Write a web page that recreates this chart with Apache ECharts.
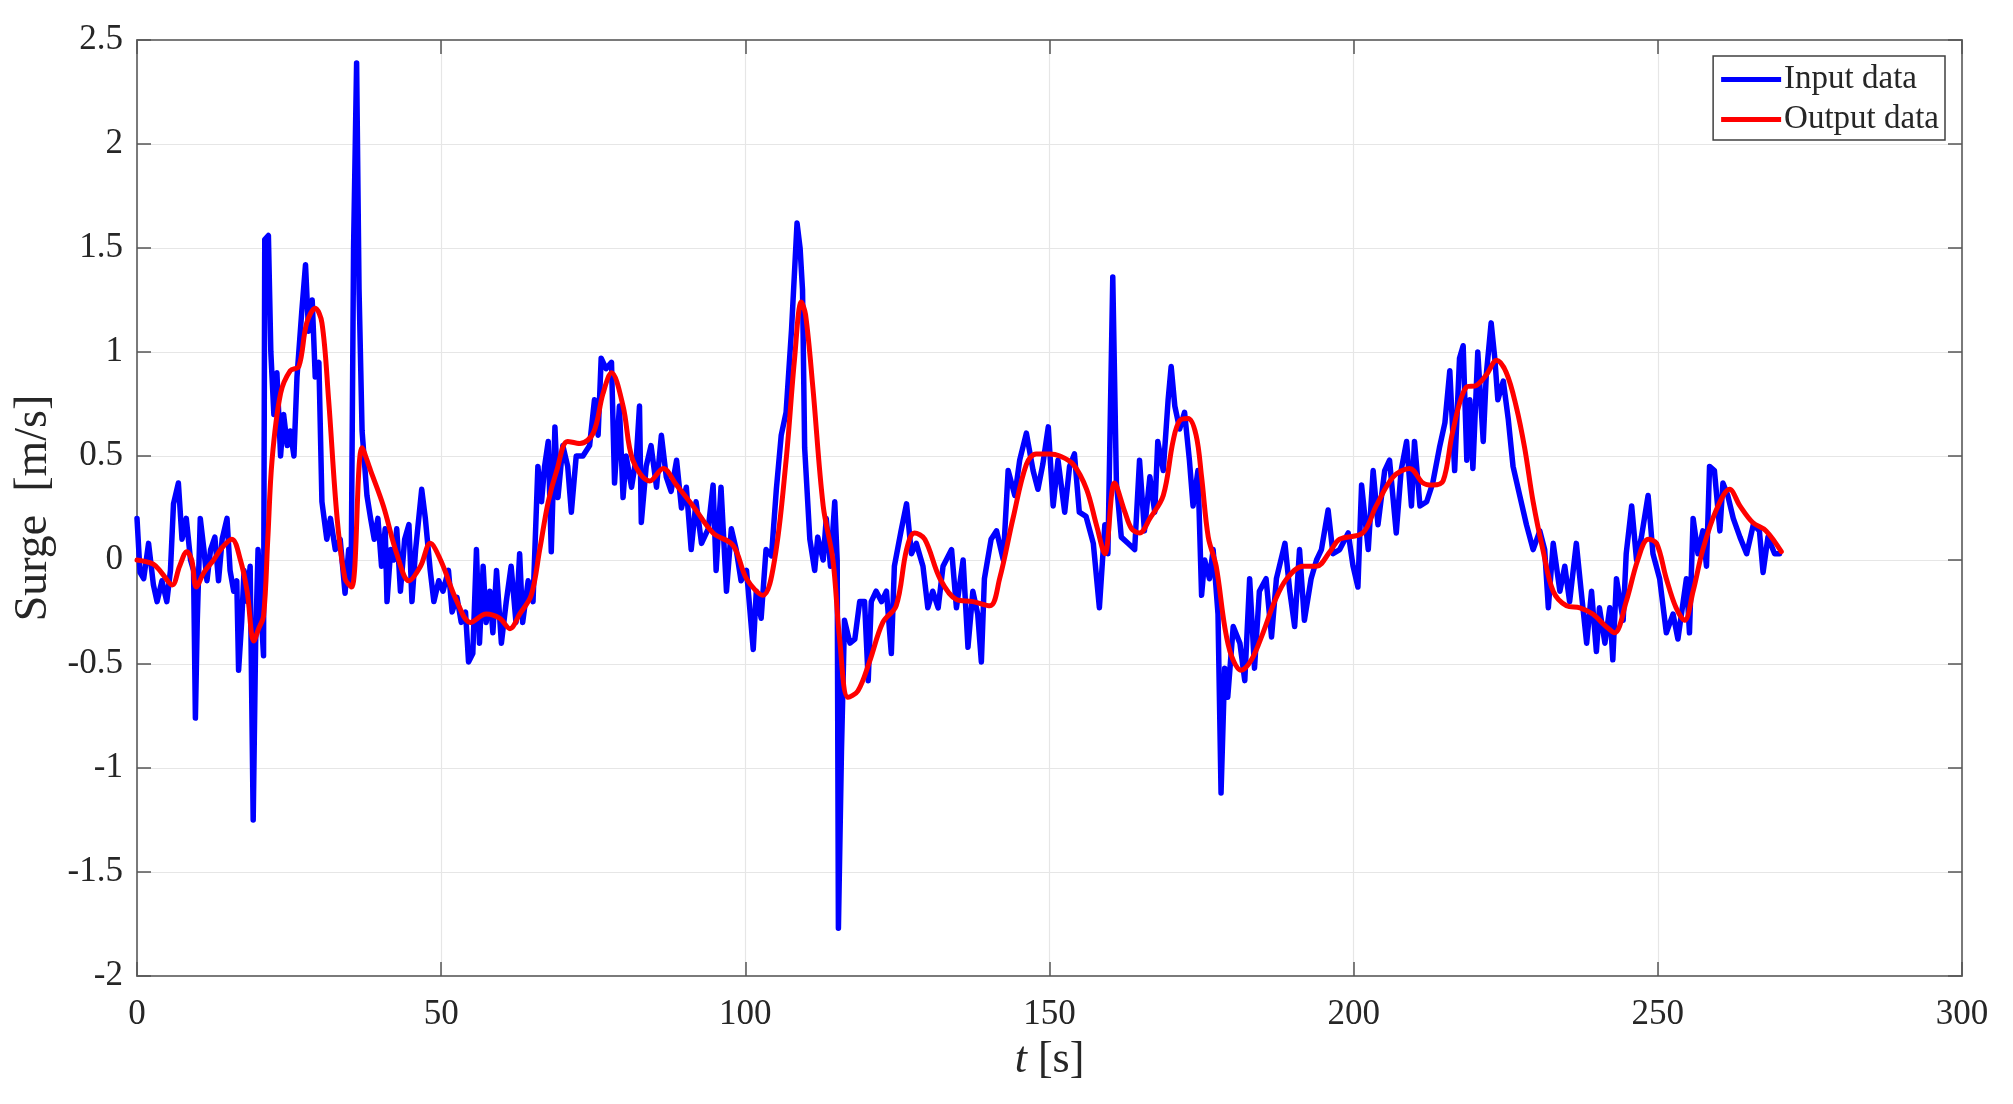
<!DOCTYPE html>
<html>
<head>
<meta charset="utf-8">
<script src="https://cdn.jsdelivr.net/npm/echarts@6/dist/echarts.min.js"></script>
<style>
html,body{margin:0;padding:0;background:#fff;}
#chart{width:2013px;height:1104px;}
</style>
</head>
<body>
<div id="chart"></div>
<script>
// ---- Data ----
const xTicks = [0, 50, 100, 150, 200, 250, 300];
const yTicks = [-2, -1.5, -1, -0.5, 0, 0.5, 1, 1.5, 2, 2.5];

// Input data (noisy) : time [s]
const inputTime = [
  0.0,0.5,1.1,1.9,2.7,3.3,4.1,4.9,5.5,6.0,6.8,7.4,8.1,8.8,9.3,9.6,9.9,10.4,11.0,11.5,
  12.1,12.8,13.4,14.0,14.8,15.3,15.9,16.4,16.7,17.2,17.6,18.1,18.6,19.1,19.5,19.9,20.3,20.8,21.0,21.6,
  22.0,22.5,23.0,23.6,24.1,24.7,25.2,25.8,26.3,27.1,27.7,28.2,28.8,29.3,29.9,30.4,31.2,31.8,32.6,33.4,
  34.2,34.8,35.2,35.6,36.1,36.5,37.0,37.8,38.4,39.0,39.6,40.2,40.8,41.1,41.7,42.2,42.7,43.3,44.0,44.7,
  45.2,45.8,46.8,47.4,48.2,48.8,49.6,50.3,51.2,51.8,52.6,53.3,54.0,54.5,
  55.2,55.8,56.3,56.9,57.4,58.0,58.5,59.1,59.9,60.7,61.5,62.3,62.9,63.4,64.3,65.1,65.9,66.5,67.0,67.6,
  68.1,68.7,69.2,70.0,70.8,71.4,72.2,73.3,74.4,75.2,75.8,76.3,77.1,78.0,78.5,79.3,79.9,80.4,81.3,82.1,
  82.6,82.9,83.7,84.5,85.4,86.2,87.0,87.8,88.7,89.5,90.3,91.1,91.9,92.8,93.9,94.7,95.2,96.0,96.9,97.7,
  98.5,99.3,100.2,101.3,101.8,102.6,103.4,104.3,105.1,105.9,106.7,107.6,108.2,108.5,109.0,109.4,109.75,110.6,111.4,111.9,
  112.8,113.3,114.0,114.7,115.1,115.3,115.8,116.3,117.2,118.0,118.8,119.6,120.2,120.7,121.5,122.4,123.2,124.0,124.5,125.6,
  126.5,127.3,128.1,129.2,130.0,130.8,131.7,132.5,133.9,134.7,135.8,136.6,137.4,138.2,138.8,139.3,140.4,141.3,142.4,143.2,
  144.3,145.1,146.2,147.3,148.1,148.9,149.8,150.6,151.4,152.5,153.3,154.1,154.9,156.0,157.2,158.2,159.1,159.6,160.4,161.0,
  161.8,162.9,164.0,164.8,165.6,166.5,167.3,167.8,168.7,169.5,170.0,170.6,171.4,172.2,173.0,173.6,174.4,175.0,175.5,176.3,
  176.9,177.7,178.2,178.8,179.3,180.2,181.3,182.1,182.9,183.7,184.5,185.6,186.5,187.3,188.7,189.5,190.3,191.1,191.9,193.0,
  193.9,194.7,195.8,196.6,197.7,199.1,199.9,200.7,201.3,202.4,203.2,204.0,205.1,205.9,207.0,207.8,208.7,209.5,210.0,210.9,
  212.0,213.0,214.1,215.0,215.8,216.6,217.4,218.0,218.6,219.1,219.6,220.4,221.3,221.8,222.6,223.2,223.7,224.6,225.4,226.2,
  227.3,228.4,229.5,230.6,231.4,232.0,232.8,233.9,234.7,235.5,236.6,237.4,238.3,239.1,239.9,240.4,241.3,242.1,242.6,243.2,
  244.3,244.8,245.7,246.5,247.3,248.4,249.2,250.3,251.4,252.5,253.3,254.7,255.2,255.8,256.6,257.4,258.0,258.5,259.3,260.2,
  260.7,261.5,262.4,263.5,264.6,265.7,266.7,267.3,268.1,269.2,270.0
];
// Input data (noisy) : surge [m/s]
const inputSurge = [
  0.2,-0.06,-0.09,0.08,-0.12,-0.2,-0.1,-0.2,-0.05,0.27,0.37,0.1,0.2,0.0,-0.05,-0.76,-0.3,0.2,0.05,-0.1,
  0.05,0.11,-0.1,0.1,0.2,-0.05,-0.15,-0.1,-0.53,-0.3,-0.05,-0.2,-0.03,-1.25,-0.4,0.05,-0.2,-0.46,1.54,1.56,
  1.0,0.7,0.9,0.5,0.7,0.55,0.62,0.5,0.88,1.2,1.42,1.1,1.25,0.88,0.95,0.28,0.1,0.2,0.05,0.1,
  -0.16,0.05,-0.1,1.5,2.39,1.3,0.62,0.31,0.2,0.1,0.2,-0.03,0.15,-0.2,0.05,0.0,0.15,-0.15,0.1,0.17,
  -0.2,0.05,0.34,0.2,-0.05,-0.2,-0.1,-0.15,-0.05,-0.25,-0.18,-0.3,-0.25,-0.49,
  -0.45,0.05,-0.4,-0.03,-0.3,-0.15,-0.35,-0.05,-0.4,-0.2,-0.03,-0.3,0.03,-0.3,-0.1,-0.2,0.45,0.28,0.45,0.57,
  0.04,0.64,0.3,0.55,0.45,0.23,0.5,0.5,0.55,0.77,0.6,0.97,0.92,0.95,0.37,0.74,0.3,0.5,0.35,0.5,
  0.74,0.18,0.45,0.55,0.35,0.6,0.4,0.33,0.48,0.25,0.35,0.05,0.28,0.08,0.15,0.36,-0.05,0.35,-0.15,0.15,
  0.05,-0.1,-0.05,-0.43,-0.15,-0.28,0.05,0.02,0.34,0.6,0.71,1.11,1.45,1.62,1.5,1.3,0.54,0.1,-0.05,0.11,
  0.0,0.2,-0.03,0.28,0.0,-1.77,-0.92,-0.29,-0.4,-0.38,-0.2,-0.2,-0.58,-0.2,-0.15,-0.2,-0.15,-0.45,-0.03,0.14,
  0.27,0.03,0.08,-0.03,-0.23,-0.15,-0.23,-0.03,0.05,-0.23,0.0,-0.42,-0.15,-0.26,-0.49,-0.09,0.1,0.14,0.0,0.43,
  0.31,0.48,0.61,0.43,0.34,0.46,0.64,0.26,0.48,0.23,0.45,0.51,0.23,0.21,0.08,-0.23,0.17,0.03,1.36,0.37,
  0.11,0.08,0.05,0.48,0.14,0.4,0.23,0.57,0.43,0.77,0.93,0.74,0.63,0.71,0.48,0.26,0.43,-0.17,0.0,-0.09,
  0.05,-0.26,-1.12,-0.52,-0.66,-0.32,-0.4,-0.58,-0.09,-0.52,-0.15,-0.09,-0.37,-0.09,0.08,-0.15,-0.32,0.05,-0.29,-0.09,
  0.0,0.05,0.24,0.03,0.05,0.13,-0.03,-0.13,0.36,0.05,0.43,0.17,0.43,0.48,0.13,0.43,0.57,0.26,0.57,0.26,
  0.28,0.37,0.54,0.66,0.91,0.43,0.97,1.03,0.48,0.77,0.44,1.0,0.57,0.89,1.14,0.97,0.77,0.86,0.68,0.45,
  0.31,0.17,0.05,0.14,0.05,-0.23,0.08,-0.15,-0.03,-0.2,0.08,-0.15,-0.4,-0.15,-0.44,-0.23,-0.4,-0.23,-0.48,-0.09,
  -0.29,0.03,0.26,0.0,0.11,0.31,0.03,-0.09,-0.35,-0.26,-0.38,-0.09,-0.35,0.2,0.03,0.14,-0.03,0.45,0.43,0.14,
  0.37,0.31,0.2,0.11,0.03,0.17,0.14,-0.06,0.11,0.03,0.03
];

// Output data (filtered) : time [s]
const outputTime = [
  0,2.7,4,5.8,7,8.2,9,9.75,11,12.6,14,15.6,17,18.1,19.2,20,20.8,21.5,22.2,23.6,
  25.2,26.6,27.9,29.3,30.4,31.5,32.9,34.2,35.3,37,38.4,40.5,42.7,44.7,46.6,48.2,49.9,52.6,54.8,57.4,
  59.6,61.3,62.9,64.8,66.2,67.6,69,70.8,72.8,75,76.6,78,79.9,81.5,84.3,86.5,88.7,91.4,94.7,98,
  100.2,102.9,104.8,106.7,108.1,109.2,109.9,111.1,112.8,114.4,115.5,116.9,118.5,120.4,122.6,124.8,126.5,127.8,129.5,132,
  134.7,137.4,140.2,141.8,144,146.2,147.8,150,151.7,153.9,156.1,157.7,159.1,160.7,162.4,163.5,164.8,166.5,168.7,170.3,
  171.4,172.8,174.1,175,176.1,177.4,178.8,179.9,181.5,183.2,185.1,187,189,191.7,193.9,196.1,197.7,201.5,203.7,206.5,
  209.2,211.4,213,214.7,216.3,218.5,220.2,221.8,223.5,225.1,226.7,228.1,229.5,231.1,232.8,235,237.2,239.3,241.5,242.9,
  244.8,246.7,248.4,249.8,251.4,253,254.4,255.8,257.4,259.6,261.8,263.5,265.6,267.8,270.3
];
// Output data (filtered) : surge [m/s]
const outputSurge = [
  0,-0.02,-0.06,-0.12,-0.03,0.04,0.0,-0.13,-0.06,0.0,0.06,0.1,0.0,-0.15,-0.39,-0.33,-0.27,0.1,0.48,0.8,
  0.91,0.93,1.14,1.21,1.14,0.77,0.2,-0.09,-0.13,0.54,0.43,0.26,0.03,-0.1,-0.03,0.08,0.0,-0.2,-0.3,-0.26,
  -0.28,-0.33,-0.26,-0.17,0.05,0.28,0.43,0.57,0.56,0.61,0.8,0.9,0.74,0.48,0.38,0.44,0.36,0.26,0.13,0.07,
  -0.09,-0.17,0.0,0.48,0.97,1.24,1.18,0.83,0.26,0.0,-0.38,-0.66,-0.63,-0.49,-0.3,-0.22,0.05,0.13,0.1,-0.09,
  -0.19,-0.2,-0.22,-0.09,0.2,0.46,0.51,0.51,0.5,0.46,0.34,0.17,0.03,0.37,0.23,0.15,0.13,0.2,0.31,0.57,
  0.67,0.68,0.6,0.4,0.11,-0.03,-0.32,-0.46,-0.53,-0.48,-0.35,-0.2,-0.09,-0.03,-0.03,0.04,0.1,0.13,0.26,0.4,
  0.44,0.37,0.36,0.38,0.62,0.83,0.84,0.89,0.96,0.9,0.74,0.54,0.28,0.05,-0.15,-0.22,-0.23,-0.26,-0.32,-0.35,
  -0.2,0.0,0.1,0.08,-0.09,-0.23,-0.29,-0.15,0.05,0.24,0.34,0.26,0.18,0.14,0.04
];

const inputData = inputTime.map((t, i) => [t, inputSurge[i]]);
const outputData = outputTime.map((t, i) => [t, outputSurge[i]]);

const FONT = 'Liberation Serif';
const TXT = '#262626';
const AXIS = '#7a7a7a';

const chart = echarts.init(document.getElementById('chart'), null, {renderer: 'canvas'});
chart.setOption({
  animation: false,
  backgroundColor: '#ffffff',
  grid: {left: 137, right: 51, top: 40, bottom: 128, containLabel: false},
  legend: {
    data: ['Input data', 'Output data'],
    orient: 'vertical',
    right: 68, top: 56,
    icon: 'rect',
    itemWidth: 60, itemHeight: 5, itemGap: 7,
    padding: [7, 6, 4, 8],
    borderColor: '#404040', borderWidth: 1.5,
    backgroundColor: '#ffffff',
    textStyle: {fontFamily: FONT, fontSize: 33, color: TXT, lineHeight: 33, padding: [0, 0, 0, -2]}
  },
  xAxis: [{
    type: 'value', min: xTicks[0], max: xTicks[xTicks.length - 1], interval: 50,
    name: '{i|t} [s]', nameLocation: 'middle', nameGap: 62,
    nameTextStyle: {fontFamily: FONT, fontSize: 44, color: TXT,
      rich: {i: {fontFamily: FONT, fontSize: 44, fontStyle: 'italic', color: TXT}}},
    axisLine: {show: true, onZero: false, lineStyle: {color: AXIS, width: 2}},
    axisTick: {show: true, inside: true, length: 14, lineStyle: {color: '#555', width: 1.5}},
    axisLabel: {fontFamily: FONT, fontSize: 35, color: TXT, margin: 21},
    splitLine: {show: true, lineStyle: {color: '#e6e6e6', width: 1.2}}
  }, {
    type: 'value', position: 'top', min: xTicks[0], max: xTicks[xTicks.length - 1], interval: 50,
    axisLine: {show: true, onZero: false, lineStyle: {color: AXIS, width: 2}},
    axisTick: {show: true, inside: true, length: 14, lineStyle: {color: '#555', width: 1.5}},
    axisLabel: {show: false}, splitLine: {show: false}
  }],
  yAxis: [{
    type: 'value', min: yTicks[0], max: yTicks[yTicks.length - 1], interval: 0.5,
    name: 'Surge  [m/s]', nameLocation: 'middle', nameGap: 70,
    nameTextStyle: {fontFamily: FONT, fontSize: 46, color: TXT},
    axisLine: {show: true, onZero: false, lineStyle: {color: AXIS, width: 2}},
    axisTick: {show: true, inside: true, length: 14, lineStyle: {color: '#555', width: 1.5}},
    axisLabel: {fontFamily: FONT, fontSize: 35, color: TXT, margin: 14},
    splitLine: {show: true, lineStyle: {color: '#e6e6e6', width: 1.2}}
  }, {
    type: 'value', position: 'right', min: yTicks[0], max: yTicks[yTicks.length - 1], interval: 0.5,
    axisLine: {show: true, onZero: false, lineStyle: {color: AXIS, width: 2}},
    axisTick: {show: true, inside: true, length: 14, lineStyle: {color: '#555', width: 1.5}},
    axisLabel: {show: false}, splitLine: {show: false}
  }],
  series: [{
    name: 'Input data', type: 'line', data: inputData,
    xAxisIndex: 0, yAxisIndex: 0,
    showSymbol: false, symbol: 'none',
    lineStyle: {color: '#0000ff', width: 5.5, join: 'round', cap: 'round'},
    itemStyle: {color: '#0000ff'},
    z: 2
  }, {
    name: 'Output data', type: 'line', data: outputData,
    xAxisIndex: 0, yAxisIndex: 0,
    showSymbol: false, symbol: 'none', smooth: 0.35,
    lineStyle: {color: '#ff0000', width: 5, join: 'round', cap: 'round'},
    itemStyle: {color: '#ff0000'},
    z: 3
  }]
});
</script>
</body>
</html>
